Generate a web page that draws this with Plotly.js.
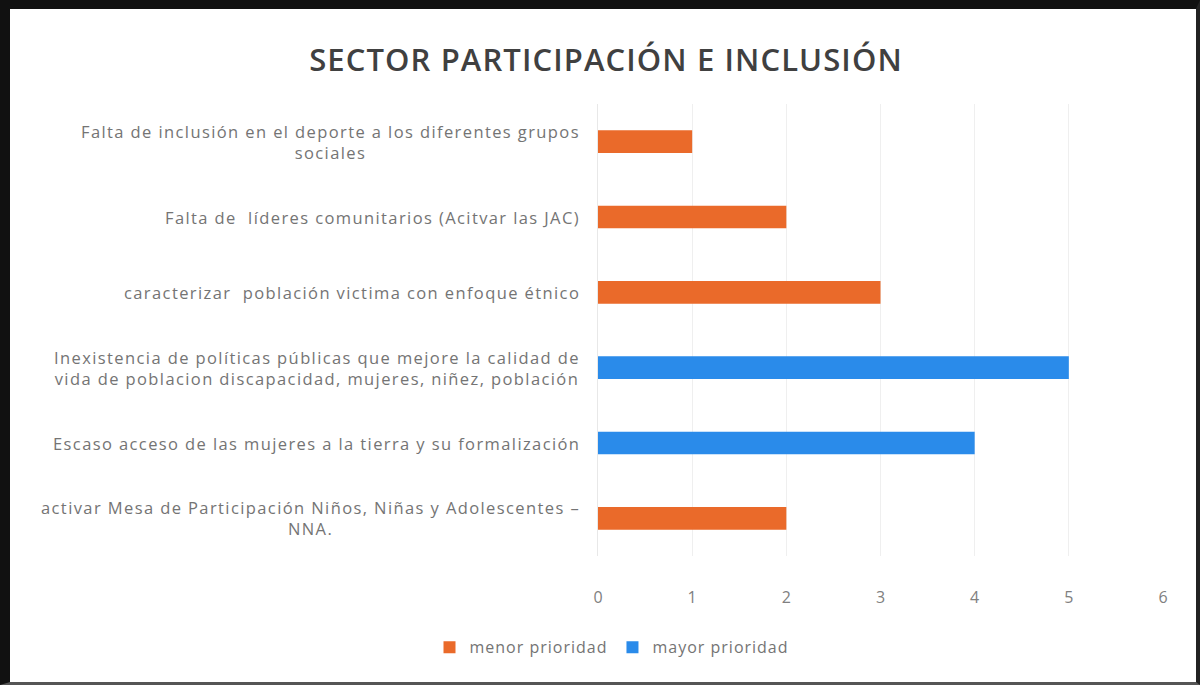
<!DOCTYPE html>
<html>
<head>
<meta charset="utf-8">
<script src="https://cdn.plot.ly/plotly-3.0.1.min.js"></script>
<style>
  html, body { margin: 0; padding: 0; background: #fff; }
  #frame { position: absolute; left: 0; top: 0; width: 1200px; height: 685px; box-sizing: border-box; pointer-events: none;
           border-top: 9px solid #111; border-left: 10px solid #111; border-right: 4px solid #222; border-bottom: 3px solid #555; }
  #chart { position: absolute; left: 0; top: 0; width: 1200px; height: 685px; }
  .annotation-text { letter-spacing: 1.4px; }
  .legendtext { letter-spacing: 1px; }
  .gtitle { letter-spacing: 1.1px; }
</style>
</head>
<body>
<div id="chart"></div>
<div id="frame"></div>
<script>
const categories = [
  "Falta de inclusión en el deporte a los diferentes grupos<br>sociales",
  "Falta de  líderes comunitarios (Acitvar las JAC)",
  "caracterizar  población victima con enfoque étnico",
  "Inexistencia de políticas públicas que mejore la calidad de<br>vida de poblacion discapacidad, mujeres, niñez, población",
  "Escaso acceso de las mujeres a la tierra y su formalización",
  "activar Mesa de Participación Niños, Niñas y Adolescentes –<br>NNA."
];
const menorPrioridad = [1, 2, 3, null, null, 2];
const mayorPrioridad = [null, null, null, 5, 4, null];
const xTicks = [0, 1, 2, 3, 4, 5, 6];

const traces = [
  { type: 'bar', orientation: 'h', name: 'menor prioridad', y: categories, x: menorPrioridad,
    marker: { color: '#EA6A2A' }, width: 0.3 },
  { type: 'bar', orientation: 'h', name: 'mayor prioridad', y: categories, x: mayorPrioridad,
    marker: { color: '#2A8BEA' }, width: 0.3 }
];

const labelAnnotations = categories.map(c => ({
  xref: 'paper', yref: 'y', x: 0, y: c, xanchor: 'right', yanchor: 'middle', xshift: -16,
  text: c, showarrow: false, align: 'center',
  font: { family: 'Open Sans', size: 16.5, color: '#747474' }
}));

const layout = {
  width: 1200, height: 685,
  paper_bgcolor: '#fff', plot_bgcolor: '#fff',
  margin: { l: 598, r: 37, t: 104, b: 129 },
  title: { text: 'SECTOR PARTICIPACIÓN E INCLUSIÓN', x: 0.505, xanchor: 'center', y: 0.912, yanchor: 'middle',
           font: { family: 'Open Sans', size: 31, color: '#404040', weight: 600 } },
  barmode: 'overlay',
  xaxis: { range: [0, 6], tickvals: xTicks, showgrid: true, gridcolor: '#efefef', gridwidth: 1,
           zeroline: false, showline: false, ticks: '', ticklabelstandoff: 30,
           tickfont: { family: 'Open Sans', size: 16, color: '#808080' } },
  yaxis: { autorange: 'reversed', showgrid: false, zeroline: false, showline: true, linecolor: '#e8e8e8',
           ticks: '', showticklabels: false },
  annotations: labelAnnotations,
  legend: { orientation: 'h', xref: 'container', x: 0.51, xanchor: 'center', yref: 'container', y: 0.055, yanchor: 'middle',
            font: { family: 'Open Sans', size: 16, color: '#747474' }, traceorder: 'normal',
            itemwidth: 30 },
  showlegend: true
};

Plotly.newPlot('chart', traces, layout, { displayModeBar: false, staticPlot: true });
</script>
</body>
</html>
